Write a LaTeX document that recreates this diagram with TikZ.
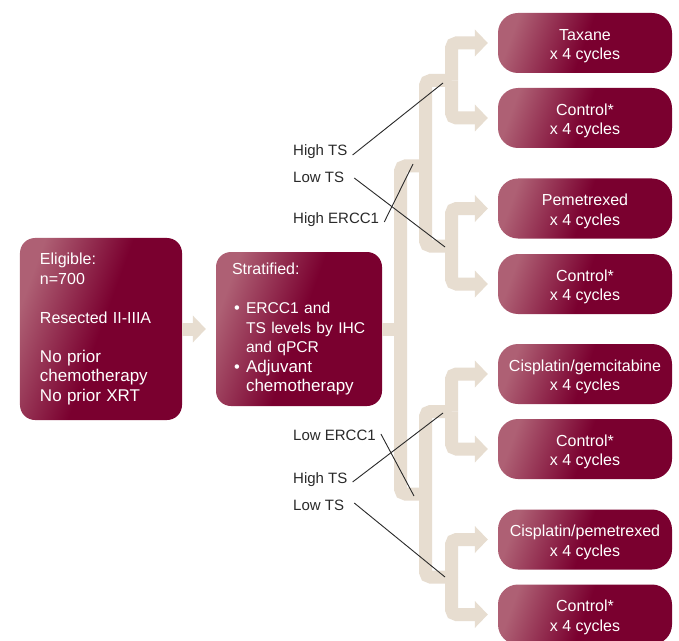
\documentclass[tikz,border=0pt]{standalone}
\usepackage{fontspec}
\setmainfont{Liberation Sans}
\usetikzlibrary{arrows.meta}
\definecolor{boxlight}{HTML}{AE6074}
\definecolor{boxdark}{HTML}{7A002F}
\definecolor{beige}{HTML}{E7DDD0}
\definecolor{lblgray}{HTML}{2A2A2A}
\newcommand{\bigline}[1]{{\fontsize{17bp}{19.5bp}\selectfont #1}}
\newcommand{\smline}[1]{{\fontsize{15.6bp}{19.5bp}\selectfont #1}}
\newcommand{\bul}{\hspace*{2bp}\makebox[12bp][l]{\fontsize{16.5bp}{19.5bp}\selectfont\textbullet}}
\newcommand{\topstrut}{\rule{0pt}{17.5bp}}
\begin{document}
\begin{tikzpicture}[x=1bp,y=-1bp,
  box/.style={rounded corners=20bp, left color=boxlight, right color=boxdark, middle color=boxdark, shading angle=70, text=white, font=\fontsize{16bp}{19.5bp}\selectfont, align=center, minimum width=174bp, minimum height=60bp, inner sep=0pt},
  bigbox/.style={box, rounded corners=15bp, align=left},
  tree/.style={draw=beige, line width=13bp, rounded corners=5bp},
  treearrow/.style={tree, -{Triangle[width=27bp,length=13bp,line width=0pt]}},
  lbl/.style={anchor=west, inner sep=0pt, text=lblgray, font=\fontsize{15bp}{18bp}\selectfont},
  ptr/.style={draw=lblgray, line width=0.9bp},
]
\fill[white] (0,0) rectangle (679,641);
\useasboundingbox (0,0) rectangle (679,641);

% main boxes
\node[bigbox, text width=122bp, minimum width=162bp, minimum height=182bp] (elig) at (101,329)
  {Eligible:\\n=700\\[19.5bp]Resected II-IIIA\\[19.5bp]\bigline{No prior}\\\bigline{chemotherapy}\\\bigline{No prior XRT}};
\node[bigbox, text width=134bp, minimum width=166bp, minimum height=154bp] (strat) at (299,329)
  {Stratified:\\[19.5bp]\smline{\bul ERCC1 and}\\\smline{\hspace*{14bp}TS levels by IHC}\\\smline{\hspace*{14bp}and qPCR}\\\bigline{\bul Adjuvant}\\\bigline{\hspace*{14bp}chemotherapy}};

% arm boxes
\node[box] (tax)  at (585,43)    {\topstrut Taxane\\x 4 cycles};
\node[box] (ctl1) at (585,118)   {\topstrut Control*\\x 4 cycles};
\node[box] (pem)  at (585,208.5) {\topstrut Pemetrexed\\x 4 cycles};
\node[box] (ctl2) at (585,284)   {\topstrut Control*\\x 4 cycles};
\node[box] (cg)   at (585,374)   {\topstrut Cisplatin/gemcitabine\\x 4 cycles};
\node[box] (ctl3) at (585,449)   {\topstrut Control*\\x 4 cycles};
\node[box] (cp)   at (585,539.5) {\topstrut Cisplatin/pemetrexed\\x 4 cycles};
\node[box] (ctl4) at (585,614.5) {\topstrut Control*\\x 4 cycles};

% tree junctions
\coordinate (jA) at (451.5,80.5);
\coordinate (jB) at (451.5,246);
\coordinate (jC) at (451.5,411.5);
\coordinate (jD) at (451.5,577);
\coordinate (s1) at (425.5,166);
\coordinate (s2) at (425.5,494);
\coordinate (m)  at (400.5,329);

\draw[treearrow] (elig.east) -- ([xshift=-10bp]strat.west);
\draw[tree] (strat.east) -- (m);
\draw[tree] (s1) -| (m) |- (s2);
\draw[tree] (jA) -| (s1) |- (jB);
\draw[tree] (jC) -| (s2) |- (jD);
\draw[treearrow] (jA) |- ([xshift=-10bp]tax.west);
\draw[treearrow] (jA) |- ([xshift=-10bp]ctl1.west);
\draw[treearrow] (jB) |- ([xshift=-10bp]pem.west);
\draw[treearrow] (jB) |- ([xshift=-10bp]ctl2.west);
\draw[treearrow] (jC) |- ([xshift=-10bp]cg.west);
\draw[treearrow] (jC) |- ([xshift=-10bp]ctl3.west);
\draw[treearrow] (jD) |- ([xshift=-10bp]cp.west);
\draw[treearrow] (jD) |- ([xshift=-10bp]ctl4.west);

% labels
\node[lbl] (lt1) at (293,152) {High TS};
\node[lbl] (lt2) at (293,177) {Low TS};
\node[lbl] (le1) at (293,220) {High ERCC1};
\node[lbl] (le2) at (293,435) {Low ERCC1};
\node[lbl] (lt3) at (293,480) {High TS};
\node[lbl] (lt4) at (293,505) {Low TS};

\coordinate (pA) at (443,83);
\coordinate (pB) at (445,247);
\coordinate (pH) at (413,164);
\coordinate (pL) at (414,496);
\coordinate (pC) at (443,413);
\coordinate (pD) at (445,577);

\draw[ptr] ([xshift=5bp,yshift=-3bp]lt1.east) -- (pA);
\draw[ptr] ([xshift=10bp,yshift=-1bp]lt2.east) -- (pB);
\draw[ptr] ([xshift=5bp,yshift=-2bp]le1.east) -- (pH);
\draw[ptr] ([xshift=5bp,yshift=1bp]le2.east) -- (pL);
\draw[ptr] ([xshift=5bp,yshift=-2bp]lt3.east) -- (pC);
\draw[ptr] ([xshift=10bp,yshift=2bp]lt4.east) -- (pD);
\end{tikzpicture}
\end{document}
